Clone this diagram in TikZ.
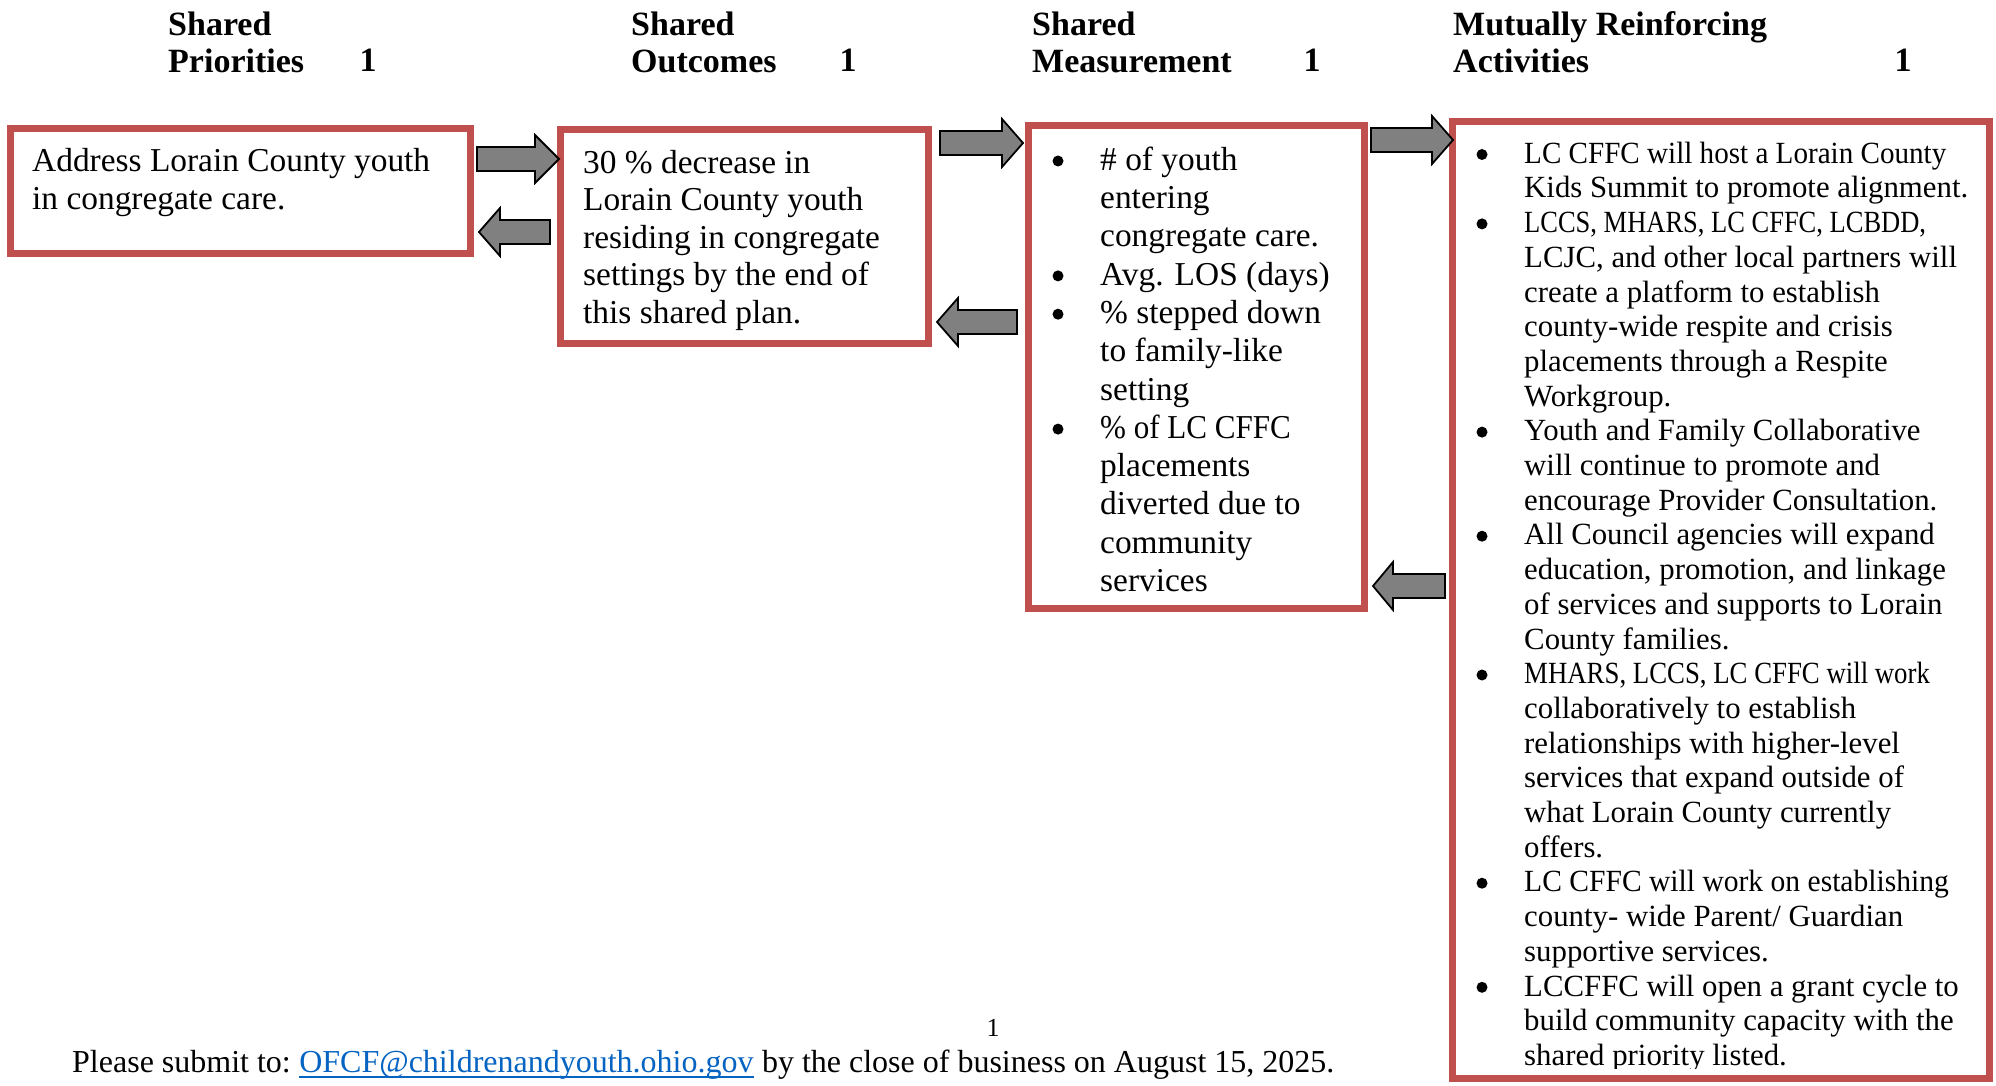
\documentclass[tikz,border=0pt]{standalone}
\usepackage{fontspec}
\setmainfont{Liberation Serif}
\definecolor{boxred}{HTML}{C0504D}
\definecolor{arrowgray}{HTML}{808080}
\definecolor{linkblue}{HTML}{0563C1}
\newcommand\sqz[2]{\scalebox{#1}[1]{#2}}
\tikzset{
  redbox/.style={draw=boxred, line width=7pt, rectangle, inner sep=0pt},
  blockarr/.style={draw=black, line width=1.8pt, fill=arrowgray, line join=miter},
  headtxt/.style={anchor=north west, inner sep=0pt, align=left, font=\fontsize{34}{37}\selectfont\bfseries},
  headnum/.style={anchor=base, inner sep=0pt, font=\fontsize{34}{37}\selectfont\bfseries},
  midtxt/.style={anchor=north west, inner sep=0pt, align=left},
  bul/.style={fill=black, circle, inner sep=0pt, minimum size=11pt},
  foottxt/.style={anchor=base west, inner sep=0pt, font=\fontsize{32}{38}\selectfont}
}
\newcommand\blockarrow[4]{%
  \draw[blockarr] (#1,{#4-12}) -- (#2,{#4-12}) -- (#2,{#4-24}) -- (#3,#4) -- (#2,{#4+24}) -- (#2,{#4+12}) -- (#1,{#4+12}) -- cycle;}
\begin{document}
\begin{tikzpicture}[x=1pt,y=-1pt]
\useasboundingbox (0,0) rectangle (1996,1086);
% headings
\node[headtxt] (h1) at (168,9.1) {\strut Shared\\Priorities};
\node[headnum] (n1) at (368,72) {1};
\node[headtxt] (h2) at (631,9.1) {\strut Shared\\Outcomes};
\node[headnum] (n2) at (848,72) {1};
\node[headtxt] (h3) at (1032,9.1) {\strut Shared\\Measurement};
\node[headnum] (n3) at (1312,72) {1};
\node[headtxt] (h4) at (1453,9.1) {\strut Mutually Reinforcing\\Activities};
\node[headnum] (n4) at (1903,72) {1};
% boxes
\node[redbox, minimum width=460pt, minimum height=125pt] (b1) at (240.5,191) {};
\node[redbox, minimum width=368pt, minimum height=214pt] (b2) at (744.5,236.5) {};
\node[redbox, minimum width=336pt, minimum height=483pt] (b3) at (1196.5,367) {};
\node[redbox, minimum width=537pt, minimum height=957pt] (b4) at (1721,600) {};
% box texts
\node[midtxt, font=\fontsize{33.4}{38}\selectfont] (t1) at (32,144.4)
  {\strut Address Lorain County youth\\in congregate care.};
\node[midtxt, font=\fontsize{33.4}{37.5}\selectfont] (t2) at (583,146.75)
  {\strut 30 \% decrease in\\Lorain County youth\\residing in congregate\\settings by the end of\\this shared plan.};
\node[midtxt, font=\fontsize{33.4}{38.3}\selectfont] (t3) at (1100,143.2)
  {\strut \# of youth\\entering\\congregate care.\\Avg. LOS (days)\\\% stepped down\\to family-like\\setting\\\sqz{0.93}{\% of LC CFFC}\\placements\\diverted due to\\community\\services};
\foreach \i [count=\k] in {1,4,5,8} {
  \node[bul] (p3\k) at (1058,{170+(\i-1)*38.3-9}) {};
}
\begin{scope}
\clip (1456,124) rectangle (1986,1068);
\node[midtxt, font=\fontsize{30.8}{34.7}\selectfont] (t4) at (1524,138.7)
  {\strut \sqz{0.945}{LC CFFC will host a Lorain County}\\Kids Summit to promote alignment.\\\sqz{0.86}{LCCS, MHARS, LC CFFC, LCBDD,}\\LCJC, and other local partners will\\create a platform to establish\\county-wide respite and crisis\\placements through a Respite\\Workgroup.\\Youth and Family Collaborative\\will continue to promote and\\encourage Provider Consultation.\\All Council agencies will expand\\education, promotion, and linkage\\of services and supports to Lorain\\County families.\\\sqz{0.87}{MHARS, LCCS, LC CFFC will work}\\collaboratively to establish\\relationships with higher-level\\services that expand outside of\\what Lorain County currently\\offers.\\\sqz{0.96}{LC CFFC will work on establishing}\\county- wide Parent/ Guardian\\supportive services.\\LCCFFC will open a grant cycle to\\build community capacity with the\\shared priority listed.};
\end{scope}
\foreach \i [count=\k] in {1,3,9,12,16,22,25} {
  \node[bul] (p4\k) at (1482,{163+(\i-1)*34.7-8.5}) {};
}
% block arrows
\blockarrow{477}{535}{559}{159}
\blockarrow{550}{500}{479}{232}
\blockarrow{940}{1002}{1023}{143}
\blockarrow{1017}{958}{937}{322}
\blockarrow{1371}{1432}{1453}{140}
\blockarrow{1445}{1393}{1373}{586}
% footer
\node[anchor=base, inner sep=0pt, font=\fontsize{26}{30}\selectfont] (pg) at (993,1036) {1};
\node[foottxt] (f1) at (72,1072) {Please submit to:};
\node[foottxt, text=linkblue] (f2) at ([xshift=8pt]f1.base east) {OFCF@childrenandyouth.ohio.gov};
\draw[linkblue, line width=2pt] ([yshift=-5pt]f2.base west) -- ([yshift=-5pt]f2.base east);
\node[foottxt] (f3) at ([xshift=8pt]f2.base east) {by the close of business on August 15, 2025.};
\end{tikzpicture}
\end{document}
